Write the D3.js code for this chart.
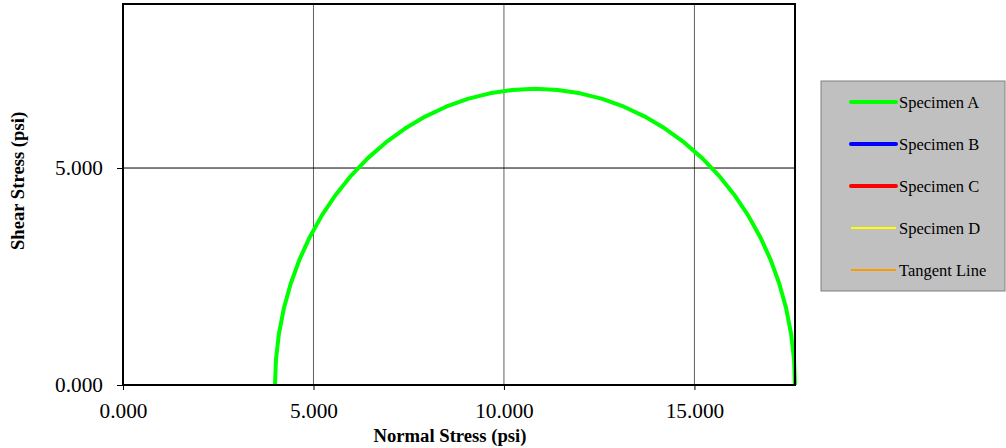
<!DOCTYPE html>
<html>
<head>
<meta charset="utf-8">
<script src="https://cdn.jsdelivr.net/npm/d3@7"></script>
<style>
  body { margin: 0; background: #fff; }
  svg text { font-family: 'Times New Roman', 'Liberation Serif', 'DejaVu Serif', serif; }
</style>
</head>
<body>
<div id="chart"></div>
<script>
// Principal stresses per specimen (psi); only Specimen A is plotted
const specimens = ['Specimen A'];
const sigma3 = [3990];
const sigma1 = [17640];

// Legend entries
const legendNames = ['Specimen A', 'Specimen B', 'Specimen C', 'Specimen D', 'Tangent Line'];
const legendColors = ['#00ff00', '#0000ff', '#ff0000', '#ffff00', '#ff9900'];
const legendWidths = [4, 4, 4, 2, 2];

// Axes
const xTicks = [0, 5000, 10000, 15000];
const yTicks = [0, 5000];
const xMax = 17640;
const yMax = 8780;

const serif = "'Times New Roman', 'Liberation Serif', 'DejaVu Serif', serif";

const width = 1006, height = 448;
const plot = { left: 123, top: 4, right: 795, bottom: 385 };

const svg = d3.select('#chart').append('svg')
  .attr('width', width)
  .attr('height', height)
  .attr('font-family', serif);

const x = d3.scaleLinear().domain([0, xMax]).range([plot.left, plot.right]);
const y = d3.scaleLinear().domain([0, yMax]).range([plot.bottom, plot.top]);

const fmt = d3.format(',.3f');
const tickFmt = v => fmt(v / 1000);

// Gridlines
svg.append('g').selectAll('line')
  .data(xTicks.filter(t => t > 0))
  .join('line')
  .attr('x1', d => x(d)).attr('x2', d => x(d))
  .attr('y1', plot.top).attr('y2', plot.bottom)
  .attr('stroke', '#606060').attr('stroke-width', 1);

svg.append('g').selectAll('line')
  .data(yTicks.filter(t => t > 0))
  .join('line')
  .attr('x1', plot.left).attr('x2', plot.right)
  .attr('y1', d => y(d)).attr('y2', d => y(d))
  .attr('stroke', '#000').attr('stroke-width', 1);

// Mohr circles (upper half) from principal stresses
const line = d3.line().x(d => x(d[0])).y(d => y(d[1]));
specimens.forEach((name, i) => {
  const c = (sigma1[i] + sigma3[i]) / 2;
  const r = (sigma1[i] - sigma3[i]) / 2;
  const pts = d3.range(0, 181, 5).map(a => {
    const t = Math.PI - a * Math.PI / 180;
    return [c + r * Math.cos(t), r * Math.sin(t)];
  });
  svg.append('path')
    .datum(pts)
    .attr('d', line)
    .attr('fill', 'none')
    .attr('stroke', legendColors[i])
    .attr('stroke-width', 4)
    .attr('stroke-linejoin', 'round');
});

// Plot frame
svg.append('rect')
  .attr('x', plot.left).attr('y', plot.top)
  .attr('width', plot.right - plot.left)
  .attr('height', plot.bottom - plot.top)
  .attr('fill', 'none')
  .attr('stroke', '#000').attr('stroke-width', 2);

// Axes
const xAxis = d3.axisBottom(x).tickValues(xTicks).tickFormat(tickFmt).tickSize(5).tickPadding(13);
const yAxis = d3.axisLeft(y).tickValues(yTicks).tickFormat(tickFmt).tickSize(6).tickPadding(14);

const gx = svg.append('g').attr('transform', `translate(0,${plot.bottom})`).call(xAxis);
const gy = svg.append('g').attr('transform', `translate(${plot.left},0)`).call(yAxis);
[gx, gy].forEach(g => {
  g.attr('font-family', serif).attr('font-size', 21.3);
  g.select('.domain').remove();
  g.selectAll('.tick line').attr('stroke', '#000');
  g.selectAll('.tick text').attr('fill', '#000');
});

// Axis titles
svg.append('text')
  .attr('x', 450).attr('y', 441.5)
  .attr('text-anchor', 'middle')
  .attr('font-size', 18.67).attr('font-weight', 'bold')
  .text('Normal Stress (psi)');

svg.append('text')
  .attr('transform', 'translate(17.5,181) rotate(-90)')
  .attr('text-anchor', 'middle')
  .attr('dy', '0.35em')
  .attr('font-size', 18.67).attr('font-weight', 'bold')
  .text('Shear Stress (psi)');

// Legend
const legend = svg.append('g');
legend.append('rect')
  .attr('x', 821).attr('y', 81)
  .attr('width', 184).attr('height', 210)
  .attr('fill', '#c0c0c0')
  .attr('stroke', '#808080').attr('stroke-width', 1);

const rows = legend.selectAll('g')
  .data(legendNames)
  .join('g')
  .attr('transform', (d, i) => `translate(0,${102 + i * 42})`);

rows.append('line')
  .attr('x1', 851).attr('x2', 896)
  .attr('stroke', (d, i) => legendColors[i])
  .attr('stroke-width', (d, i) => legendWidths[i])
  .attr('stroke-linecap', (d, i) => legendWidths[i] > 2 ? 'round' : 'butt');

rows.append('text')
  .attr('x', 899).attr('y', 0).attr('dy', '0.35em')
  .attr('font-size', 16.5)
  .attr('fill', '#000')
  .text(d => d);
</script>
</body>
</html>
